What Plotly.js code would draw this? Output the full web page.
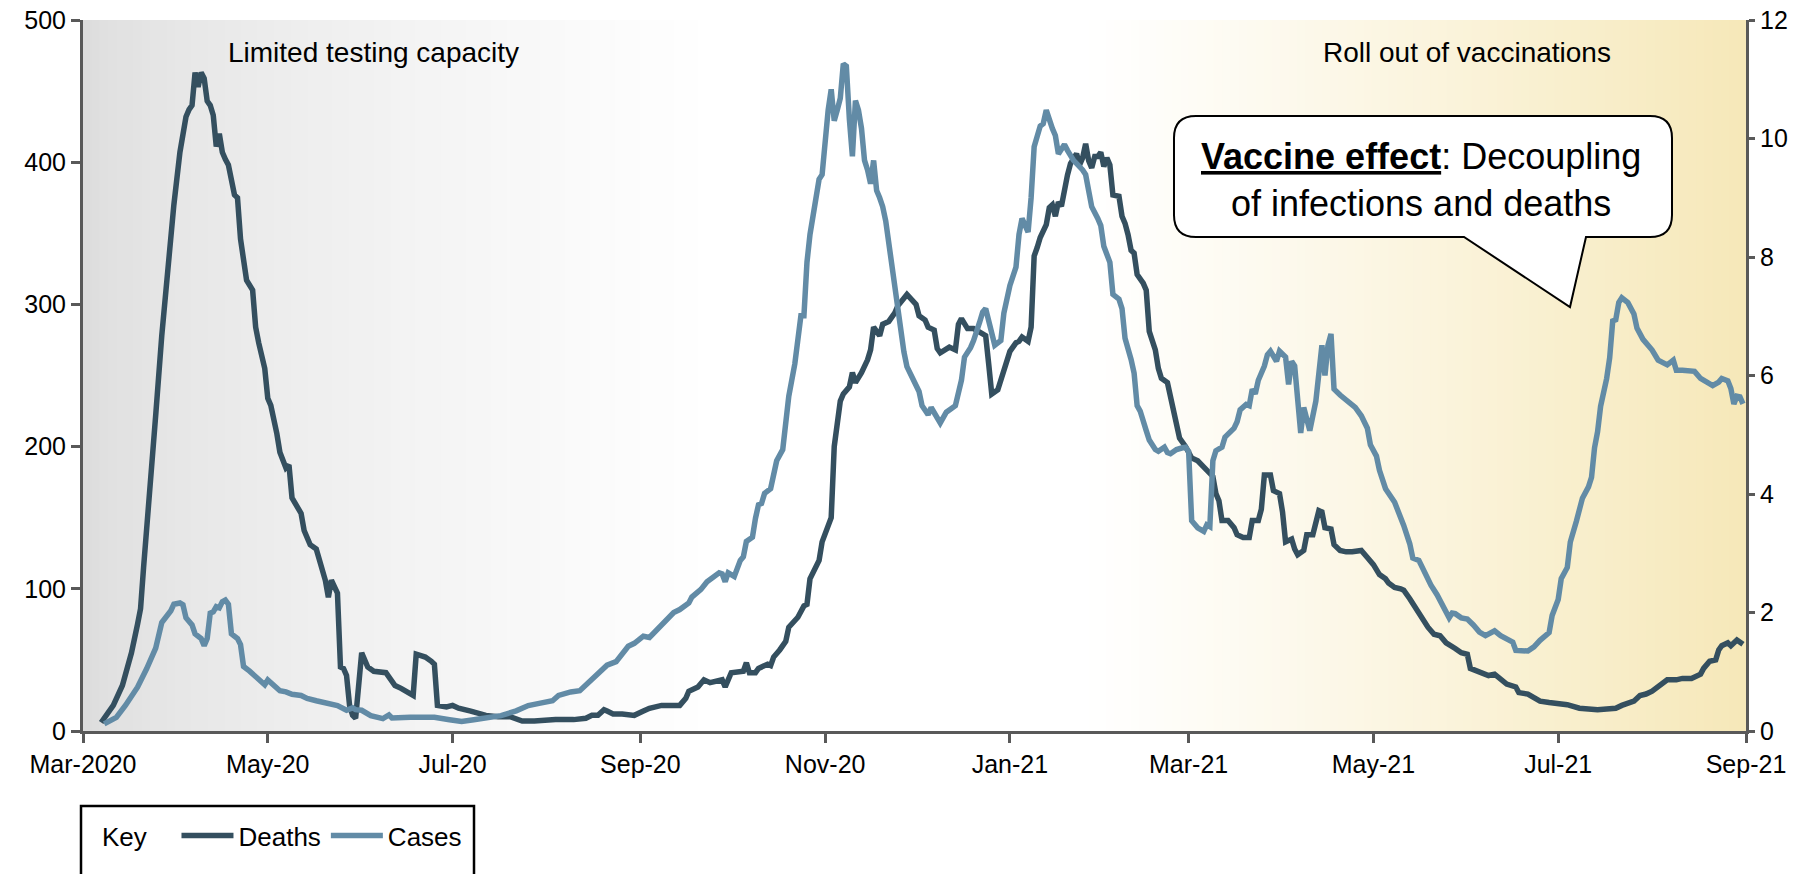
<!DOCTYPE html>
<html>
<head>
<meta charset="utf-8">
<script src="https://cdn.plot.ly/plotly-3.0.1.min.js"></script>
<style>
html,body{margin:0;padding:0;background:#fff;}
#chart{width:1814px;height:874px;}
</style>
</head>
<body>
<div id="chart"></div>
<script>
// ---- Data (days counted from 1 March 2020) ----
const START_DATE = '2020-03-01';

const deathDays = [6,8,10,13,16,18,19,20,21,22,24,26,28,30,32,34,35,36,37,38,39,40,41,42,43,44,45,46,47,48,50,51,52,54,56,57,58,60,61,62,64,65,67,68,69,71,72,73,75,77,79,80,81,82,84,85,86,87,88,89,90,92,94,96,100,103,105,108,109,110,113,115,116,117,120,122,124,128,133,137,141,145,149,156,162,166,168,170,172,173,175,178,182,185,187,191,194,197,199,200,203,205,207,211,212,214,218,219,220,222,223,226,227,228,230,232,233,236,238,239,240,243,244,247,248,250,251,253,254,255,257,259,260,261,263,264,266,268,269,271,272,275,276,278,279,281,282,283,286,288,289,290,292,294,297,298,299,300,302,303,305,306,308,309,310,312,313,314,315,316,318,319,320,321,322,323,325,326,328,329,330,331,332,333,334,335,336,337,338,339,340,342,343,344,345,346,347,348,350,351,352,354,355,356,358,359,361,362,364,366,368,369,371,373,374,375,376,378,380,381,383,385,386,388,389,390,392,393,395,396,397,399,400,401,403,404,406,407,408,409,410,412,413,415,417,419,422,424,426,428,430,431,433,435,436,438,440,442,444,446,448,450,451,453,455,457,458,460,462,464,466,468,470,473,474,477,479,481,484,487,490,494,497,500,503,506,508,510,512,514,516,518,520,521,523,526,528,531,534,535,537,539,540,541,543,544,546,548];
const deathValues = [6,12,18,32,55,75,86,115,140,167,222,278,328,370,407,432,437,440,463,453,463,459,443,440,433,411,420,407,402,398,377,375,346,317,310,284,273,255,234,229,209,196,185,187,164,157,153,141,131,128,112,106,94,106,97,45,44,39,18,11,9,55,45,42,41,32,30,26,25,54,52,49,47,18,17,18,16,14,11,10,10,7,7,8,8,9,11,11,15,14,12,12,11,14,16,18,18,18,23,28,31,36,34,36,31,41,42,48,41,41,44,47,46,52,57,63,73,80,88,89,107,120,133,150,200,232,237,242,252,245,252,261,268,284,278,286,288,294,299,305,307,300,292,289,284,282,269,266,270,268,286,290,283,283,279,278,258,237,240,247,263,267,273,274,277,274,284,334,340,347,356,368,370,362,372,369,391,399,406,398,403,413,401,396,404,404,407,397,403,398,377,376,362,357,349,338,336,321,315,310,281,268,255,248,245,234,216,206,200,192,190,188,184,179,167,162,148,148,143,138,136,136,148,148,156,180,180,169,167,154,133,135,128,124,127,138,138,148,155,154,143,142,131,127,126,126,127,122,117,110,107,104,101,100,99,93,86,80,73,68,67,62,61,58,55,54,44,42,41,39,40,36,33,31,27,26,24,21,20,19.5,18.5,16,15.5,15,15.5,16,18,19.5,21,25,26,28,31,32,36,36,37,37,40,44,49,50,57,60,62,60,64,61];

const caseDays = [7,11,14,18,21,24,26,29,30,32,33,34,36,37,39,40,41,42,43,44,45,46,47,48,49,51,52,53,55,56,58,60,61,63,65,67,69,72,74,77,80,84,87,89,90,92,95,99,101,102,108,116,121,125,129,134,138,143,147,151,155,157,161,164,167,170,173,176,178,180,182,185,187,189,192,195,197,200,201,204,206,208,210,211,212,213,215,217,218,219,221,222,223,224,225,227,228,229,231,232,233,235,236,237,238,239,240,241,242,243,244,245,246,247,248,249,250,251,252,253,254,255,256,257,258,259,260,261,262,263,264,265,266,267,268,269,270,271,272,274,276,277,279,280,282,283,285,288,290,291,293,294,296,297,298,300,301,303,304,306,308,309,310,312,313,314,316,317,318,320,321,322,324,325,327,330,331,332,333,335,336,337,339,340,342,343,344,346,347,348,349,351,352,354,355,357,358,359,361,363,364,365,366,368,370,371,372,373,374,376,377,380,381,382,384,385,386,387,388,390,391,392,394,395,397,398,399,400,401,402,403,405,407,409,410,411,412,413,415,417,418,420,422,424,425,427,428,430,433,435,436,438,439,441,443,445,447,449,451,452,453,455,457,459,461,463,464,466,468,470,472,473,475,477,479,481,484,485,487,488,490,491,493,495,497,498,499,500,501,503,504,505,506,507,508,510,512,513,515,517,518,520,522,523,525,526,528,530,532,534,536,538,540,541,543,544,545,546,547,548];
const caseValues = [0.12,0.23,0.43,0.74,1.05,1.40,1.83,2.03,2.14,2.16,2.13,1.91,1.79,1.64,1.56,1.44,1.56,1.99,2.01,2.10,2.08,2.18,2.21,2.14,1.64,1.56,1.46,1.09,1.01,0.96,0.86,0.78,0.86,0.78,0.68,0.66,0.62,0.60,0.55,0.51,0.47,0.43,0.35,0.39,0.36,0.35,0.26,0.21,0.27,0.22,0.23,0.23,0.19,0.16,0.19,0.23,0.26,0.34,0.43,0.47,0.51,0.60,0.66,0.68,0.82,0.97,1.11,1.17,1.29,1.43,1.48,1.60,1.58,1.69,1.83,2.00,2.05,2.16,2.26,2.39,2.52,2.61,2.67,2.65,2.52,2.67,2.61,2.88,2.94,3.20,3.27,3.59,3.82,3.84,4.01,4.09,4.33,4.56,4.75,5.14,5.65,6.20,6.66,7.01,7.01,7.91,8.38,8.69,9.00,9.31,9.39,10.09,10.48,10.83,10.30,10.48,10.68,11.26,11.22,10.33,9.70,10.64,10.48,10.17,9.63,9.47,9.24,9.63,9.12,9.00,8.85,8.61,8.22,7.83,7.50,7.13,6.74,6.40,6.15,5.96,5.73,5.49,5.34,5.46,5.30,5.20,5.38,5.49,5.92,6.31,6.47,6.59,6.90,7.07,7.13,6.74,6.51,6.59,7.05,7.52,7.83,8.38,8.65,8.42,9.00,9.86,10.21,10.25,10.48,10.17,10.05,9.74,9.90,9.80,9.63,9.47,9.39,9.12,8.85,8.65,8.53,8.18,7.91,7.37,7.29,7.13,6.63,6.27,6.04,5.49,5.40,5.07,4.91,4.75,4.72,4.79,4.70,4.68,4.75,4.78,4.79,4.72,3.55,3.43,3.37,3.48,3.45,4.56,4.73,4.79,4.96,5.11,5.22,5.42,5.51,5.49,5.77,5.69,5.92,6.16,6.35,6.41,6.24,6.41,6.31,5.85,6.24,6.16,5.61,5.03,5.46,5.07,5.57,6.51,6.00,6.51,6.70,5.77,5.67,5.59,5.53,5.46,5.32,5.11,4.83,4.64,4.40,4.09,3.86,3.62,3.47,3.16,2.92,2.88,2.65,2.46,2.30,2.10,1.91,1.99,1.98,1.91,1.89,1.79,1.67,1.61,1.64,1.69,1.61,1.56,1.50,1.36,1.35,1.35,1.42,1.53,1.66,1.95,2.22,2.57,2.76,3.19,3.54,3.93,4.12,4.28,4.78,5.05,5.48,5.95,6.30,6.92,6.94,7.23,7.31,7.23,7.04,6.80,6.61,6.49,6.43,6.26,6.20,6.18,6.26,6.09,6.09,6.07,6.07,5.95,5.89,5.83,5.89,5.95,5.91,5.78,5.52,5.65,5.64,5.52];

const tickDates = ['2020-03-01','2020-05-01','2020-07-01','2020-09-01','2020-11-01','2021-01-01','2021-03-01','2021-05-01','2021-07-01','2021-09-01'];
const tickLabels = ['Mar-2020','May-20','Jul-20','Sep-20','Nov-20','Jan-21','Mar-21','May-21','Jul-21','Sep-21'];
const leftTicks = [0,100,200,300,400,500];
const rightTicks = [0,2,4,6,8,10,12];

// ---- helpers ----
function dayToDate(d){
  const base = new Date(START_DATE + 'T00:00:00Z');
  base.setUTCDate(base.getUTCDate() + d);
  return base.toISOString().slice(0,10);
}

// plot-area geometry in pixels (for decoration shapes)
const PL = 83, PR = 1746, PT = 20, PB = 731;
const W = PR-PL, H = PB-PT;
function px(x){ return ((x-PL)/W).toFixed(5); }
function py(y){ return ((PB-y)/H).toFixed(5); }

// background gradient (grey on the left, yellow on the right)
function bgColor(p){
  let r=255,g=255,b=255;
  const gEnd = 0.38;
  if (p < gEnd){
    const t = Math.pow(p/gEnd, 0.6);
    const v = Math.round(219 + (255-219)*t);
    r=g=b=v;
  }
  const yStart = 0.60;
  if (p > yStart){
    const t = Math.pow((p-yStart)/(1-yStart), 1.15);
    r = Math.round(255 + (246-255)*t);
    g = Math.round(255 + (232-255)*t);
    b = Math.round(255 + (184-255)*t);
  }
  return `rgb(${r},${g},${b})`;
}
const shapes = [];
const NB = 200;
for (let i=0;i<NB;i++){
  shapes.push({type:'rect', xref:'paper', yref:'paper', x0:i/NB, x1:Math.min(1,(i+1)/NB+0.001), y0:0, y1:1,
    fillcolor:bgColor((i+0.5)/NB), line:{width:0}, layer:'below'});
}

// callout box
const bx1=1174, bx2=1672, by1=116, by2=237, rr=22;
const tipX=1570, tipY=307, tailL=1464, tailR=1586;
const path = `M${px(bx1+rr)},${py(by1)} L${px(bx2-rr)},${py(by1)} Q${px(bx2)},${py(by1)} ${px(bx2)},${py(by1+rr)} `+
  `L${px(bx2)},${py(by2-rr)} Q${px(bx2)},${py(by2)} ${px(bx2-rr)},${py(by2)} `+
  `L${px(tailR)},${py(by2)} L${px(tipX)},${py(tipY)} L${px(tailL)},${py(by2)} `+
  `L${px(bx1+rr)},${py(by2)} Q${px(bx1)},${py(by2)} ${px(bx1)},${py(by2-rr)} `+
  `L${px(bx1)},${py(by1+rr)} Q${px(bx1)},${py(by1)} ${px(bx1+rr)},${py(by1)} Z`;
shapes.push({type:'path', xref:'paper', yref:'paper', path:path, fillcolor:'#ffffff', line:{color:'#000000', width:2}, layer:'above'});

// key box border
shapes.push({type:'rect', xref:'paper', yref:'paper', x0:px(81), x1:px(474), y0:py(880), y1:py(806),
  fillcolor:'rgba(0,0,0,0)', line:{color:'#000000', width:2.5}, layer:'above'});

const FONT = 'Liberation Sans, Arial, Helvetica, sans-serif';
const DEATH_COLOR = '#344f5f';
const CASE_COLOR = '#628ba6';

const traces = [
  {x: deathDays.map(dayToDate), y: deathValues, type:'scatter', mode:'lines', name:'Deaths',
   line:{color:DEATH_COLOR, width:5.5}, yaxis:'y'},
  {x: caseDays.map(dayToDate), y: caseValues, type:'scatter', mode:'lines', name:'Cases',
   line:{color:CASE_COLOR, width:5.5}, yaxis:'y2'}
];

const layout = {
  width:1814, height:874,
  margin:{l:PL, r:1814-PR, t:PT, b:874-PB, pad:0},
  paper_bgcolor:'#ffffff', plot_bgcolor:'#ffffff',
  font:{family:FONT, color:'#000000', size:25},
  showlegend:true,
  legend:{orientation:'h', x:px(100), xanchor:'left', y:py(812), yanchor:'top',
    title:{text:'Key   ', font:{size:26, family:FONT}}, font:{size:26, family:FONT},
    bgcolor:'rgba(0,0,0,0)', borderwidth:0, traceorder:'normal', itemwidth:52},
  xaxis:{type:'date', range:['2020-03-01','2021-09-01'], tickmode:'array', tickvals:tickDates, ticktext:tickLabels,
    showgrid:false, zeroline:false, showline:true, linecolor:'#595959', linewidth:3,
    ticks:'outside', ticklen:9, tickwidth:3, tickcolor:'#595959', tickfont:{size:25, family:FONT}},
  yaxis:{range:[0,500], tickmode:'array', tickvals:leftTicks, showgrid:false, zeroline:false,
    showline:true, linecolor:'#595959', linewidth:3, ticks:'outside', ticklen:9, tickwidth:3, tickcolor:'#595959',
    tickfont:{size:25, family:FONT}},
  yaxis2:{range:[0,12], overlaying:'y', side:'right', tickmode:'array', tickvals:rightTicks, showgrid:false, zeroline:false,
    showline:true, linecolor:'#595959', linewidth:3, ticks:'outside', ticklen:6, tickwidth:3, tickcolor:'#595959',
    tickfont:{size:25, family:FONT}},
  shapes: shapes,
  annotations:[
    {xref:'paper', yref:'paper', x:px(374), y:py(52), text:'Limited testing capacity', showarrow:false,
     font:{size:28, family:FONT, color:'#000'}, xanchor:'center', yanchor:'middle'},
    {xref:'paper', yref:'paper', x:px(1467), y:py(52), text:'Roll out of vaccinations', showarrow:false,
     font:{size:28, family:FONT, color:'#000'}, xanchor:'center', yanchor:'middle'},
    {xref:'paper', yref:'paper', x:px(1421), y:py(180), text:'<b><u>Vaccine effect</u></b>: Decoupling<br>of infections and deaths',
     showarrow:false, align:'center', font:{size:36, family:FONT, color:'#000'}, xanchor:'center', yanchor:'middle'}
  ]
};

Plotly.newPlot('chart', traces, layout, {displayModeBar:false, staticPlot:true});
</script>
</body>
</html>
